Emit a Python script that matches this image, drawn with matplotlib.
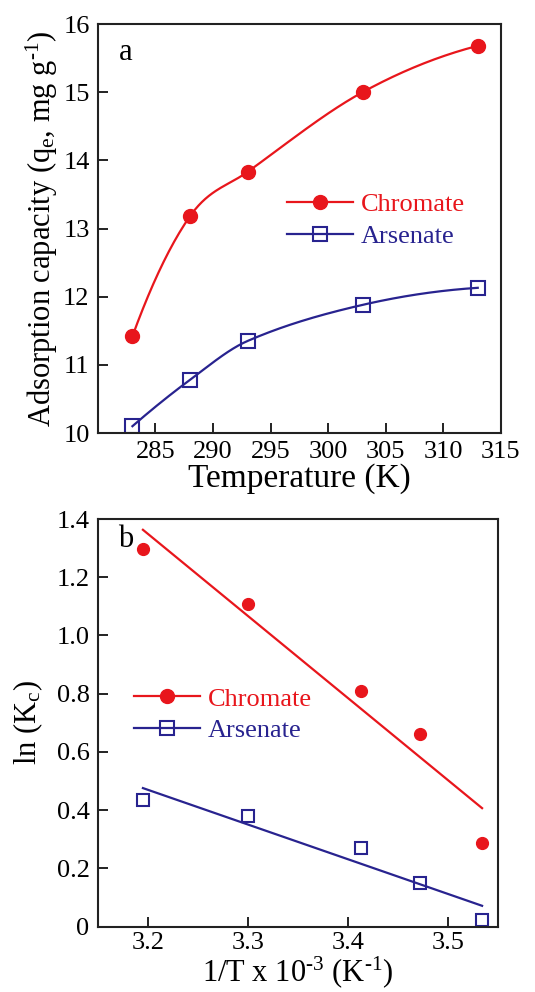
import numpy as np
import matplotlib
matplotlib.use("Agg")
import matplotlib.pyplot as plt
from matplotlib.ticker import FuncFormatter

plt.rcParams['font.family'] = ['Liberation Serif', 'DejaVu Serif']
plt.rcParams['mathtext.fontset'] = 'custom'
plt.rcParams['mathtext.rm'] = 'Liberation Serif'
plt.rcParams['mathtext.it'] = 'Liberation Serif:italic'

# Daten (a): Adsorptionskapazitaet vs. Temperatur
temperatur = [283, 288, 293, 303, 313]
chromate_qe = [11.42, 13.18, 13.83, 15.0, 15.68]
arsenate_qe = [10.1, 10.78, 11.35, 11.88, 12.13]

# Daten (b): ln(Kc) vs. 1/T
inv_T = [3.195, 3.300, 3.413, 3.472, 3.534]
chromate_lnK = [1.297, 1.109, 0.810, 0.662, 0.288]
arsenate_lnK = [0.434, 0.381, 0.271, 0.149, 0.023]

rot = '#e8161c'
blau = '#28238f'
achse = '#222222'


def glatt(x, y, n=200):
    # kubische Hermite-Kurve mit Catmull-Rom-Steigungen, nur zum Glaetten der Linie
    x = np.asarray(x, float)
    y = np.asarray(y, float)
    h = np.diff(x)
    d = np.diff(y) / h
    k = len(x)
    m = np.zeros(k)
    for i in range(1, k - 1):
        m[i] = (y[i + 1] - y[i - 1]) / (x[i + 1] - x[i - 1])
    m[0] = ((2 * h[0] + h[1]) * d[0] - h[0] * d[1]) / (h[0] + h[1])
    m[-1] = ((2 * h[-1] + h[-2]) * d[-1] - h[-1] * d[-2]) / (h[-1] + h[-2])
    xs = np.linspace(x[0], x[-1], n)
    ys = np.empty_like(xs)
    for j, xv in enumerate(xs):
        i = int(np.clip(np.searchsorted(x, xv) - 1, 0, k - 2))
        t = (xv - x[i]) / h[i]
        h00 = 2 * t ** 3 - 3 * t ** 2 + 1
        h10 = t ** 3 - 2 * t ** 2 + t
        h01 = -2 * t ** 3 + 3 * t ** 2
        h11 = t ** 3 - t ** 2
        ys[j] = h00 * y[i] + h10 * h[i] * m[i] + h01 * y[i + 1] + h11 * h[i] * m[i + 1]
    return xs, ys


def achsen_stil(ax):
    for s in ax.spines.values():
        s.set_color(achse)
        s.set_linewidth(1.5)
    ax.tick_params(direction='in', length=7, width=1.4, color=achse,
                   labelsize=19, pad=6, top=False, right=False)


def legende(ax, x0, y0):
    leg = ax.legend(loc='center left', bbox_to_anchor=(x0, y0), frameon=False, fontsize=19,
                    handlelength=2.5, handletextpad=0.3, labelspacing=0.3,
                    borderaxespad=0, borderpad=0)
    for txt, c in zip(leg.get_texts(), [rot, blau]):
        txt.set_color(c)


fig = plt.figure(figsize=(5.35, 9.92), dpi=100)

##### Panel a #####
ax1 = fig.add_axes([0.183, 0.5635, 0.753, 0.4123])
xs, ys = glatt(temperatur, chromate_qe)
ax1.plot(xs, ys, color=rot, lw=1.6)
ax1.plot(temperatur, chromate_qe, 'o', color=rot, ms=10)
xs, ys = glatt(temperatur, arsenate_qe)
ax1.plot(xs, ys, color=blau, lw=1.6)
ax1.plot(temperatur, arsenate_qe, 's', mfc='none', mec=blau, mew=1.5, ms=10)
ax1.plot([], [], '-o', color=rot, ms=10, lw=1.6, label='Chromate')
ax1.plot([], [], '-s', color=blau, mfc='none', mec=blau, mew=1.5, ms=10, lw=1.6, label='Arsenate')

ax1.set_xlim(280, 315)
ax1.set_ylim(10, 16)
ax1.set_xticks([285, 290, 295, 300, 305, 310, 315])
ax1.set_yticks([10, 11, 12, 13, 14, 15, 16])
achsen_stil(ax1)
ax1.set_xlabel('Temperature (K)', fontsize=24, labelpad=0)
ax1.set_ylabel('Adsorption capacity (q$_\\mathrm{e}$, mg g$^{\u20101}$)', fontsize=22, labelpad=2)
ax1.text(0.07, 0.93, 'a', transform=ax1.transAxes, fontsize=22, va='center', ha='center')
legende(ax1, 0.47, 0.52)

##### Panel b #####
ax2 = fig.add_axes([0.183, 0.066, 0.748, 0.4108])
ax2.plot(inv_T, chromate_lnK, 'o', color=rot, ms=8.5)
ax2.plot(inv_T, arsenate_lnK, 's', mfc='none', mec=blau, mew=1.5, ms=9)
# lineare Regression
for y, c in [(chromate_lnK, rot), (arsenate_lnK, blau)]:
    m, b0 = np.polyfit(inv_T, y, 1)
    xx = np.array([inv_T[0], inv_T[-1]])
    ax2.plot(xx, m * xx + b0, color=c, lw=1.6)
ax2.plot([], [], '-o', color=rot, ms=10, lw=1.6, label='Chromate')
ax2.plot([], [], '-s', color=blau, mfc='none', mec=blau, mew=1.5, ms=10, lw=1.6, label='Arsenate')

ax2.set_xlim(3.15, 3.55)
ax2.set_ylim(0, 1.4)
ax2.set_xticks([3.2, 3.3, 3.4, 3.5])
ax2.set_yticks([0, 0.2, 0.4, 0.6, 0.8, 1.0, 1.2, 1.4])
ax2.yaxis.set_major_formatter(FuncFormatter(lambda v, p: '0' if v == 0 else '%.1f' % v))
achsen_stil(ax2)
ax2.tick_params(axis='x', pad=4)
ax2.set_xlabel('1/T x 10$^{\u20103}$ (K$^{\u20101}$)', fontsize=22, labelpad=0)
ax2.set_ylabel('ln (K$_\\mathrm{c}$)', fontsize=22, labelpad=8)
ax2.text(0.07, 0.95, 'b', transform=ax2.transAxes, fontsize=22, va='center', ha='center')
legende(ax2, 0.09, 0.52)

fig.savefig('out.png', dpi=100)
